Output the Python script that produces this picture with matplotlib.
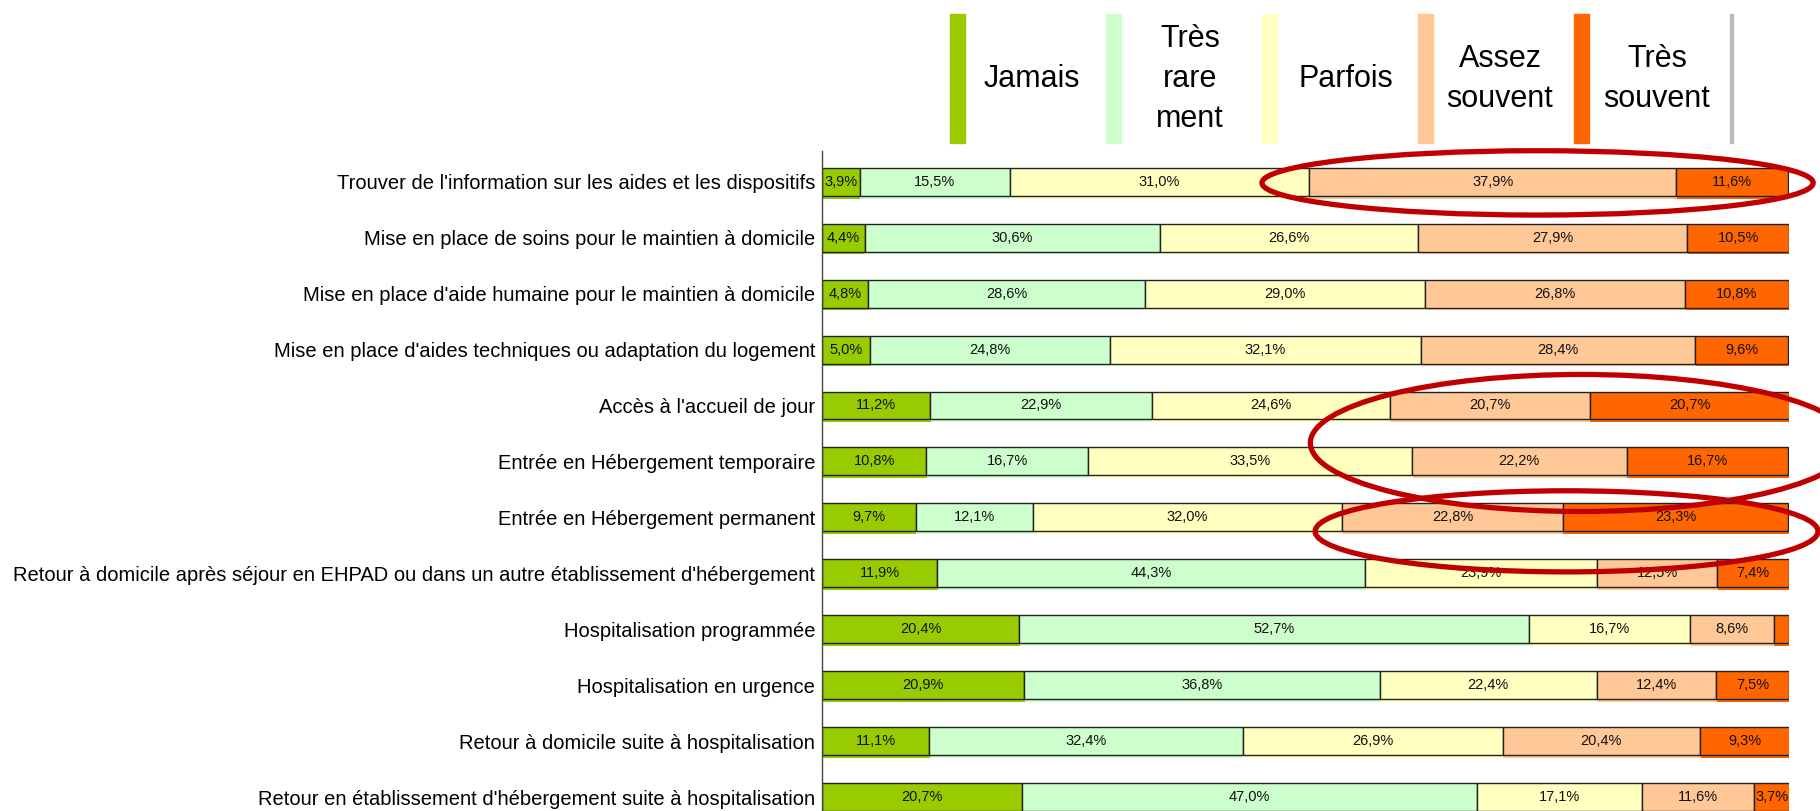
import matplotlib
matplotlib.use('Agg')
import matplotlib.pyplot as plt
import matplotlib.patheffects as pe
from matplotlib.patches import Ellipse, Rectangle
import numpy as np

categories = [
    "Trouver de l'information sur les aides et les dispositifs",
    "Mise en place de soins pour le maintien à domicile",
    "Mise en place d'aide humaine pour le maintien à domicile",
    "Mise en place d'aides techniques ou adaptation du logement",
    "Accès à l'accueil de jour",
    "Entrée en Hébergement temporaire",
    "Entrée en Hébergement permanent",
    "Retour à domicile après séjour en EHPAD ou dans un autre établissement d'hébergement",
    "Hospitalisation programmée",
    "Hospitalisation en urgence",
    "Retour à domicile suite à hospitalisation",
    "Retour en établissement d'hébergement suite à hospitalisation",
]
jamais = [3.9, 4.4, 4.8, 5.0, 11.2, 10.8, 9.7, 11.9, 20.4, 20.9, 11.1, 20.7]
tres_rarement = [15.5, 30.6, 28.6, 24.8, 22.9, 16.7, 12.1, 44.3, 52.7, 36.8, 32.4, 47.0]
parfois = [31.0, 26.6, 29.0, 32.1, 24.6, 33.5, 32.0, 23.9, 16.7, 22.4, 26.9, 17.1]
assez_souvent = [37.9, 27.9, 26.8, 28.4, 20.7, 22.2, 22.8, 12.5, 8.6, 12.4, 20.4, 11.6]
tres_souvent = [11.6, 10.5, 10.8, 9.6, 20.7, 16.7, 23.3, 7.4, 1.6, 7.5, 9.3, 3.7]

series_names = ["Jamais", "Très\nrare\nment", "Parfois", "Assez\nsouvent", "Très\nsouvent"]
couleurs = ['#99CC00', '#CCFFCC', '#FFFFC0', '#FFC896', '#FF6600']

police = ['Liberation Sans', 'DejaVu Sans']

fig = plt.figure(figsize=(18.2, 8.11), dpi=100)
ax = fig.add_axes([822 / 1820, 0.0, (1789 - 822) / 1820, 1 - 151 / 811])

y = np.arange(len(categories))
gauche = np.zeros(len(categories))
for valeurs, couleur in zip([jamais, tres_rarement, parfois, assez_souvent, tres_souvent], couleurs):
    barres = ax.barh(y, valeurs, left=gauche, height=0.5, color=couleur,
                     edgecolor='#222222', linewidth=1.0)
    for b in barres:
        b.set_path_effects([pe.SimplePatchShadow(offset=(0.5, -2), shadow_rgbFace=couleur, alpha=1),
                            pe.Normal()])
    for yi, g, v in zip(y, gauche, valeurs):
        if v >= 2:
            ax.text(g + v / 2, yi, f"{v:.1f}%".replace('.', ','), ha='center', va='center',
                    fontsize=10.5, family=police, color='#111111')
    gauche += np.array(valeurs)

ax.set_xlim(0, 100)
ax.set_ylim(11.25, -0.55)
ax.set_yticks(y)
ax.set_yticklabels(categories, fontsize=14.5, family=police)
ax.tick_params(axis='y', length=0, pad=5)
ax.set_xticks([])
for s in ['top', 'right', 'bottom']:
    ax.spines[s].set_visible(False)
ax.spines['left'].set_color('#444444')
ax.spines['left'].set_linewidth(1)

# ellipses rouges
for cx, cy, w, h in [(74, 0.02, 57, 1.15), (78.5, 4.67, 56, 2.45), (77, 6.25, 52, 1.45)]:
    ax.add_patch(Ellipse((cx, cy), w, h, fill=False, edgecolor='#C00000', linewidth=3.8,
                         clip_on=False, zorder=5))

# légende manuelle
patch_x = [950, 1106, 1262, 1418, 1574]
text_x = [1032, 1190, 1346, 1500, 1657]
for px, tx, nom, couleur in zip(patch_x, text_x, series_names, couleurs):
    fig.patches.append(Rectangle((px / 1820, 1 - 143 / 811), 15 / 1820, 129 / 811,
                                 transform=fig.transFigure, color=couleur, figure=fig))
    fig.text(tx / 1820, 1 - 79 / 811, nom, ha='center', va='center', fontsize=22,
             family=police, linespacing=1.42)
fig.patches.append(Rectangle((1730 / 1820, 1 - 143 / 811), 3 / 1820, 129 / 811,
                             transform=fig.transFigure, color='#BBBBBB', figure=fig))

fig.savefig('out.png', dpi=100)
